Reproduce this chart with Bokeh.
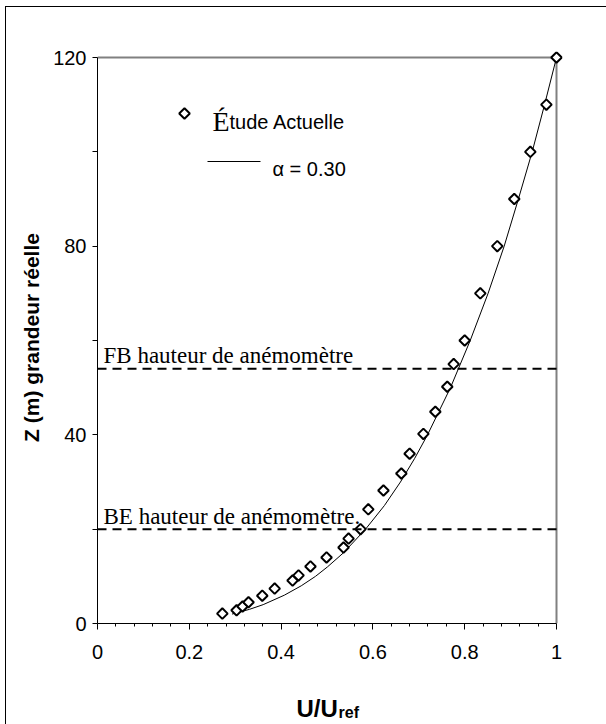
import math
from bokeh.plotting import figure
from bokeh.models import (Range1d, FixedTicker, Span, Label, ColumnDataSource,
                          NumeralTickFormatter)
from bokeh.embed import file_html
from bokeh.resources import INLINE

# Profil mesuré (U/Uref, hauteur Z en m)
u_mesure = [0.272, 0.303, 0.316, 0.329, 0.359, 0.386, 0.425, 0.438, 0.464, 0.499,
            0.536, 0.547, 0.573, 0.590, 0.623, 0.662, 0.680, 0.710, 0.736, 0.762,
            0.776, 0.800, 0.834, 0.871, 0.908, 0.943, 0.978, 1.000]
z_mesure = [2.1, 2.8, 3.6, 4.5, 5.9, 7.4, 9.1, 10.2, 12.1, 14.0,
            16.1, 18.0, 20.0, 24.2, 28.2, 31.8, 36.0, 40.2, 44.9, 50.2,
            55.0, 60.0, 70.0, 80.0, 90.0, 100.0, 110.0, 120.0]

# Loi de puissance alpha = 0.30
u_loi = [0.293, 0.331, 0.361, 0.407, 0.444, 0.475, 0.501, 0.536, 0.584, 0.625,
         0.660, 0.691, 0.719, 0.769, 0.812, 0.851, 0.886, 0.917, 0.947, 0.974, 1.000]
z_loi = [2, 3, 4, 6, 8, 10, 12, 15, 20, 25,
         30, 35, 40, 50, 60, 70, 80, 90, 100, 110, 120]

# Hauteurs des anémomètres
z_anemometres = [54, 20]
noms_anemometres = ["FB hauteur de anémomètre", "BE hauteur de anémomètre."]

x_ticks = [0, 0.2, 0.4, 0.6, 0.8, 1.0]
x_minor = [0.04, 0.08, 0.12, 0.16, 0.24, 0.28, 0.32, 0.36, 0.44, 0.48, 0.52, 0.56,
           0.64, 0.68, 0.72, 0.76, 0.84, 0.88, 0.92, 0.96]
y_ticks = [0, 40, 80, 120]
y_minor = [20, 60, 100]

W, H = 606, 724
X0, X1, Y0, Y1 = 0.0, 1.0, 0.0, 120.0
AX_L, AX_R, AX_T, AX_B = 97, 556, 57, 623   # axis box in pixels
PAD = 6                                       # room so edge markers are not cut
PX_X = (X1 - X0) / (AX_R - AX_L)
PX_Y = (Y1 - Y0) / (AX_B - AX_T)


def ux(px):
    return X0 + (px - AX_L) * PX_X


def zy(py):
    return Y0 + (AX_B - py) * PX_Y


p = figure(width=W, height=H, output_backend="svg", toolbar_location=None,
           x_range=Range1d(X0, X1 + PAD * PX_X), y_range=Range1d(Y0, Y1 + PAD * PX_Y),
           min_border_left=AX_L, min_border_right=W - AX_R - PAD,
           min_border_top=AX_T - PAD, min_border_bottom=H - AX_B)
p.background_fill_color = "white"
p.border_fill_color = None
p.outline_line_color = None
p.grid.visible = False
# page frame: left and top rules of the surrounding box
p.styles = {"background": "linear-gradient(#000,#000) 5px 6px / 1px 100% no-repeat, "
                          "linear-gradient(#000,#000) 5px 6px / 100% 1px no-repeat, #fff"}

SANS = "Liberation Sans"
SERIF = "Liberation Serif"

for ax in (p.xaxis[0], p.yaxis[0]):
    ax.axis_line_color = "black"
    ax.axis_line_width = 1
    ax.major_tick_line_color = "black"
    ax.minor_tick_line_color = "black"
    ax.major_tick_in = 0
    ax.minor_tick_in = 0
    ax.major_label_text_font = SANS
    ax.major_label_text_font_size = "20px"
    ax.major_label_text_color = "black"

p.xaxis.bounds = (X0, X1)
p.xaxis.ticker = FixedTicker(ticks=x_ticks, minor_ticks=x_minor)
p.xaxis.formatter = NumeralTickFormatter(format="0.[0]")
p.xaxis.major_tick_out = 6
p.xaxis.minor_tick_out = 3
p.xaxis.major_label_standoff = 15
p.xaxis.axis_label = None

p.yaxis.bounds = (Y0, Y1)
p.yaxis.ticker = FixedTicker(ticks=y_ticks, minor_ticks=y_minor)
p.yaxis.formatter = NumeralTickFormatter(format="0")
p.yaxis.major_tick_out = 5
p.yaxis.minor_tick_out = 5
p.yaxis.major_label_standoff = 6
p.yaxis.axis_label = "Z (m) grandeur réelle"
p.yaxis.axis_label_text_font = SANS
p.yaxis.axis_label_text_font_style = "bold"
p.yaxis.axis_label_text_font_size = "21px"
p.yaxis.axis_label_text_color = "black"
p.yaxis.axis_label_standoff = 7

# grey top and right edges of the plot area
p.segment(x0=[X0, X1], y0=[Y1, Y0], x1=[X1, X1], y1=[Y1, Y1],
          line_color="#808080", line_width=2)

# x axis title with subscript, placed in the bottom panel
p.add_layout(Label(x=296, y=708, x_units="canvas", y_units="canvas", text="U/U",
                   text_font=SANS, text_font_style="bold", text_font_size="24px",
                   text_baseline="alphabetic", text_color="black"), "below")
p.add_layout(Label(x=338, y=712, x_units="canvas", y_units="canvas", text="ref",
                   text_font=SANS, text_font_style="bold", text_font_size="16px",
                   text_baseline="alphabetic", text_color="black"), "below")

# anemometer heights
for z, nom in zip(z_anemometres, noms_anemometres):
    p.add_layout(Span(location=z, dimension="width", line_color="black",
                      line_width=2, line_dash="9 6"))
    p.add_layout(Label(x=ux(103), y=z + 13 * PX_Y, text=nom, text_font=SERIF,
                       text_font_size="23px", text_baseline="alphabetic",
                       text_color="black"))

src_loi = ColumnDataSource(data=dict(u=u_loi, z=z_loi))
src_mes = ColumnDataSource(data=dict(u=u_mesure, z=z_mesure))

p.line("u", "z", source=src_loi, line_color="black", line_width=1)
p.scatter("u", "z", source=src_mes, marker="square", angle=math.pi / 4,
          size=7.5, fill_color="white", line_color="black", line_width=2)

# legend
cle_mes = ColumnDataSource(data=dict(u=[ux(184)], z=[zy(113)]))
p.scatter("u", "z", source=cle_mes, marker="square", angle=math.pi / 4,
          size=7.5, fill_color="white", line_color="black", line_width=2)
cle_loi = ColumnDataSource(data=dict(u=[ux(207), ux(260)], z=[zy(161), zy(161)]))
p.line("u", "z", source=cle_loi, line_color="black", line_width=1)

p.add_layout(Label(x=ux(212), y=zy(121), text="É", text_font=SERIF,
                   text_font_size="28px", text_baseline="alphabetic",
                   text_color="black"))
p.add_layout(Label(x=ux(229), y=zy(121), text="tude Actuelle", text_font=SANS,
                   text_font_size="20px", text_baseline="alphabetic",
                   text_color="black"))
p.add_layout(Label(x=ux(272), y=zy(168), text="α  = 0.30", text_font=SANS,
                   text_font_size="20px", text_baseline="alphabetic",
                   text_color="black"))

open("out.html", "w").write(file_html(p, INLINE))
